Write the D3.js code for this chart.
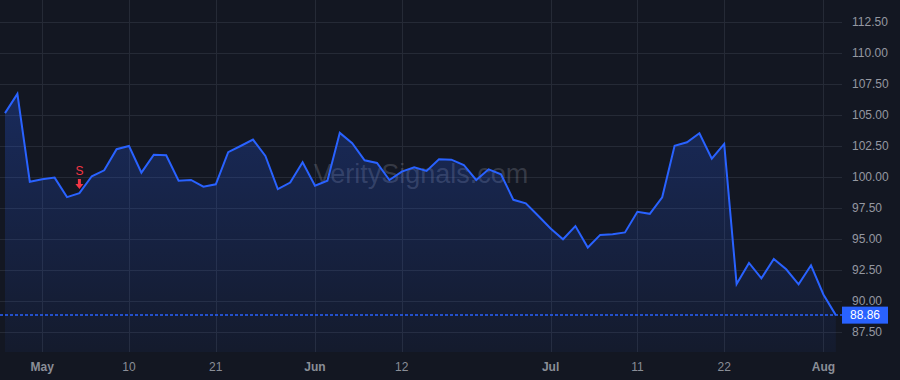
<!DOCTYPE html>
<html>
<head>
<meta charset="utf-8">
<script src="https://cdn.jsdelivr.net/npm/d3@7/dist/d3.min.js"></script>
<style>
  html, body { margin: 0; padding: 0; background: #131722; }
  svg { display: block; font-family: "Liberation Sans", Arial, sans-serif; }
</style>
</head>
<body>
<svg id="chart" width="900" height="380"></svg>
<script>
// trading days, Apr 26 -> Aug 2
var dates = ["2024-04-26","2024-04-29","2024-04-30",
  "2024-05-01","2024-05-02","2024-05-03","2024-05-06","2024-05-07","2024-05-08","2024-05-09","2024-05-10",
  "2024-05-13","2024-05-14","2024-05-15","2024-05-16","2024-05-17","2024-05-20","2024-05-21","2024-05-22",
  "2024-05-23","2024-05-24","2024-05-28","2024-05-29","2024-05-30","2024-05-31",
  "2024-06-03","2024-06-04","2024-06-05","2024-06-06","2024-06-07","2024-06-10","2024-06-11","2024-06-12",
  "2024-06-13","2024-06-14","2024-06-17","2024-06-18","2024-06-20","2024-06-21","2024-06-24","2024-06-25",
  "2024-06-26","2024-06-27","2024-06-28",
  "2024-07-01","2024-07-02","2024-07-03","2024-07-05","2024-07-08","2024-07-09","2024-07-10","2024-07-11",
  "2024-07-12","2024-07-15","2024-07-16","2024-07-17","2024-07-18","2024-07-19","2024-07-22","2024-07-23",
  "2024-07-24","2024-07-25","2024-07-26","2024-07-29","2024-07-30","2024-07-31",
  "2024-08-01","2024-08-02"];

var prices = [105.15, 106.70, 99.62, 99.81, 99.95, 98.38, 98.70, 100.06, 100.54, 102.24, 102.50,
  100.35, 101.80, 101.75, 99.70, 99.76, 99.22, 99.41, 102.00, 102.50, 103.02, 101.70, 99.03, 99.55,
  101.19, 99.30, 99.70, 103.56, 102.73, 101.35, 101.13, 99.76, 100.43, 100.78, 100.49, 101.43, 101.40,
  100.97, 99.76, 100.62, 100.22, 98.16, 97.87, 96.87, 95.85, 94.98, 96.04, 94.31, 95.33, 95.39, 95.53,
  97.19, 97.03, 98.36, 102.51, 102.80, 103.53, 101.48, 102.67, 91.37, 93.07, 91.83, 93.39, 92.56,
  91.34, 92.88, 90.53, 88.86];

var tickDates = ["2024-05-01","2024-05-10","2024-05-21","2024-06-03","2024-06-12","2024-07-01","2024-07-11","2024-07-22","2024-08-01"];
var tickLabels = ["May","10","21","Jun","12","Jul","11","22","Aug"];
var monthTicks = ["May","Jun","Jul","Aug"];

var yTicks = [87.5, 90, 92.5, 95, 97.5, 100, 102.5, 105, 107.5, 110, 112.5];

var signalDate = "2024-05-06", signalLabel = "S";
var lastPrice = prices[prices.length - 1];
var watermark = "VeritySignals.com";

var data = dates.map(function(d, i) { return { date: d, price: prices[i] }; });

var WIDTH = 900, HEIGHT = 380,
    PLOT_RIGHT = 842, PLOT_BOTTOM = 352;

var svg = d3.select('#chart');

var xScale = d3.scalePoint().domain(dates).range([5, 835.8]),
    yScale = d3.scaleLinear().domain([87.5, 112.5]).range([332, 22]);

svg.append("rect")
   .attr("width", WIDTH).attr("height", HEIGHT)
   .attr("fill", "#131722");

// grid
svg.append("g").selectAll("line")
   .data(yTicks).enter().append("line")
   .attr("x1", 0).attr("x2", PLOT_RIGHT)
   .attr("y1", function(d) { return Math.round(yScale(d)) + 0.5; })
   .attr("y2", function(d) { return Math.round(yScale(d)) + 0.5; })
   .attr("stroke", "#252a36");

svg.append("g").selectAll("line")
   .data(tickDates).enter().append("line")
   .attr("x1", function(d) { return Math.round(xScale(d)) + 0.5; })
   .attr("x2", function(d) { return Math.round(xScale(d)) + 0.5; })
   .attr("y1", 0).attr("y2", PLOT_BOTTOM)
   .attr("stroke", "#252a36");

// watermark
svg.append("text")
   .attr("x", 421).attr("y", 183)
   .attr("text-anchor", "middle")
   .attr("font-size", 27)
   .attr("fill", "rgba(130,134,146,0.32)")
   .text(watermark);

// area + line
var grad = svg.append("defs").append("linearGradient")
   .attr("id", "areaGrad").attr("x1", 0).attr("x2", 0).attr("y1", 0).attr("y2", 1);
grad.append("stop").attr("offset", "0%").attr("stop-color", "#2962ff").attr("stop-opacity", 0.26);
grad.append("stop").attr("offset", "100%").attr("stop-color", "#2962ff").attr("stop-opacity", 0.05);

var areaGen = d3.area()
   .x(function(d) { return xScale(d.date); })
   .y0(PLOT_BOTTOM)
   .y1(function(d) { return yScale(d.price); });

var lineGen = d3.line()
   .x(function(d) { return xScale(d.date); })
   .y(function(d) { return yScale(d.price); });

svg.append("path")
   .attr("d", areaGen(data))
   .attr("fill", "url(#areaGrad)");

svg.append("path")
   .attr("d", lineGen(data))
   .attr("fill", "none")
   .attr("stroke", "#2962ff")
   .attr("stroke-width", 2)
   .attr("stroke-linejoin", "miter");

// last price line
svg.append("line")
   .attr("x1", 0).attr("x2", PLOT_RIGHT)
   .attr("y1", Math.round(yScale(lastPrice)))
   .attr("y2", Math.round(yScale(lastPrice)))
   .attr("stroke", "#2962ff")
   .attr("stroke-width", 1.3)
   .attr("stroke-dasharray", "3,2");

// y axis labels
svg.append("g").selectAll("text")
   .data(yTicks).enter().append("text")
   .attr("x", 852)
   .attr("y", function(d) { return yScale(d); })
   .attr("dy", "0.35em")
   .attr("font-size", 12)
   .attr("fill", "#9598a1")
   .text(function(d) { return d3.format(".2f")(d); });

svg.append("rect")
   .attr("x", 842).attr("y", yScale(lastPrice) - 8.5)
   .attr("width", 46).attr("height", 17)
   .attr("fill", "#2962ff");

svg.append("text")
   .attr("x", 865).attr("y", yScale(lastPrice))
   .attr("dy", "0.35em")
   .attr("text-anchor", "middle")
   .attr("font-size", 12)
   .attr("fill", "#ffffff")
   .text(d3.format(".2f")(lastPrice));

// x axis labels
svg.append("g").selectAll("text")
   .data(tickDates).enter().append("text")
   .attr("x", function(d) { return xScale(d); })
   .attr("y", 371)
   .attr("text-anchor", "middle")
   .attr("font-size", 12)
   .attr("font-weight", function(d, i) { return monthTicks.indexOf(tickLabels[i]) >= 0 ? "bold" : "normal"; })
   .attr("fill", "#8a8e97")
   .text(function(d, i) { return tickLabels[i]; });

// sell signal marker
var sx = xScale(signalDate),
    sy = yScale(prices[dates.indexOf(signalDate)]) - 4;

svg.append("path")
   .attr("d", "M" + (sx - 1.5) + "," + (sy - 10) + "h3v5h2.5l-4,5l-4,-5h2.5z")
   .attr("fill", "#f23645");

svg.append("text")
   .attr("x", sx).attr("y", sy - 14)
   .attr("text-anchor", "middle")
   .attr("font-size", 12)
   .attr("fill", "#f23645")
   .text(signalLabel);
</script>
</body>
</html>
